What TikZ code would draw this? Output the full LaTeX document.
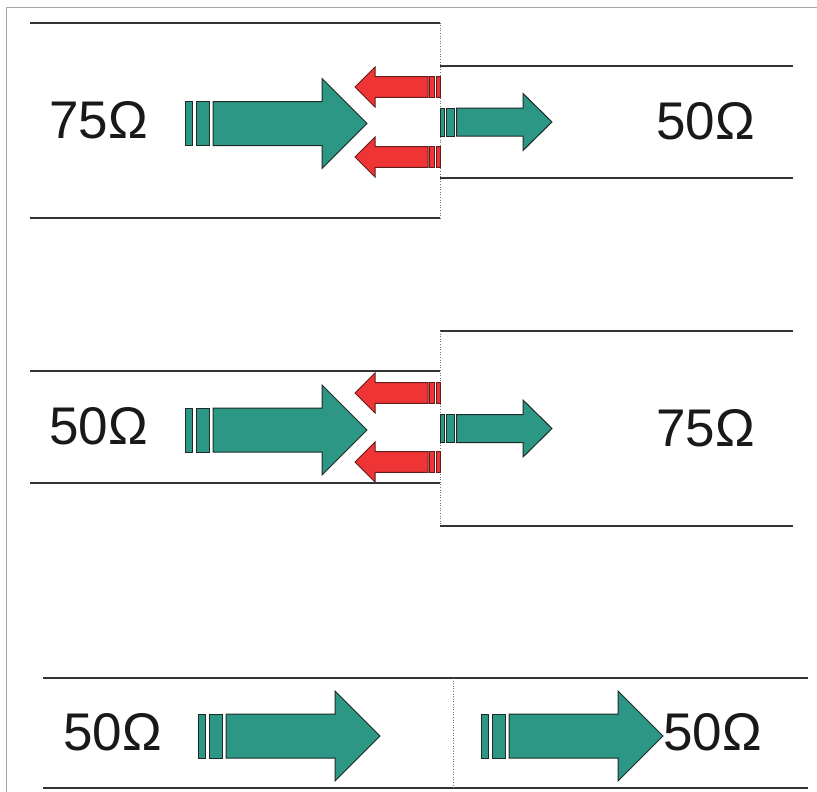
\documentclass[tikz,border=0pt]{standalone}
\usepackage{fontspec}
\setmainfont{Liberation Sans}
\definecolor{wavegreen}{HTML}{2C9784}
\definecolor{reflred}{HTML}{EE3434}
\definecolor{edgedark}{HTML}{1F2A27}

\tikzset{
  frame/.style={draw=black!35, line width=0.8pt},
  conductor/.style={draw=black!80, line width=2pt},
  junction/.style={draw=black!55, line width=0.6pt, dotted},
  greenpart/.style={fill=wavegreen, draw=edgedark, line width=1pt},
  redpart/.style={fill=reflred, draw=edgedark!70!red, line width=1pt},
  ohms/.style={font=\fontsize{53}{60}\selectfont, inner sep=0pt, anchor=base west, text=black!90},
  % incident wave, long arrow
  bigarrow/.pic={
    \path[greenpart] (0,-22) rectangle (7,22);
    \path[greenpart] (11,-22) rectangle (24,22);
    \path[greenpart] (28,-22) -- (137,-22) -- (137,-45) -- (182,0)
      -- (137,45) -- (137,22) -- (28,22) -- cycle;
  },
  % transmitted wave, short arrow
  smallarrow/.pic={
    \path[greenpart] (0,-14) rectangle (4,14);
    \path[greenpart] (6,-14) rectangle (14,14);
    \path[greenpart] (16.5,-14) -- (83,-14) -- (83,-28.5) -- (112,0)
      -- (83,28.5) -- (83,14) -- (16.5,14) -- cycle;
  },
  % reflected wave, pointing back
  redarrow/.pic={
    \path[redpart] (-4,-10.3) rectangle (0,10.3);
    \path[redpart] (-10.5,-10.3) rectangle (-6,10.3);
    \path[redpart] (-12,-10.3) -- (-65,-10.3) -- (-65,-20) -- (-85,0)
      -- (-65,20) -- (-65,10.3) -- (-12,10.3) -- cycle;
  }
}

\begin{document}
\begin{tikzpicture}[x=1pt,y=-1pt]
  \useasboundingbox (0,0) rectangle (817,792);
  \fill[white] (0,0) rectangle (817,792);
  \draw[frame] (6,792) -- (6,7) -- (817,7);

  % ---- 75 ohm into 50 ohm ----
  \draw[conductor] (30,22.7) -- (440,22.7);
  \draw[conductor] (30,218) -- (440,218);
  \draw[conductor] (440,66) -- (793,66);
  \draw[conductor] (440,178.3) -- (793,178.3);
  \draw[junction] (440,22.7) -- (440,218);
  \node[ohms] (zA1) at (49,138) {75Ω};
  \node[ohms] (zA2) at (656,139.3) {50Ω};
  \pic at (185,123.5) {bigarrow};
  \pic at (440,122) {smallarrow};
  \pic at (440,87) {redarrow};
  \pic at (440,157) {redarrow};

  % ---- 50 ohm into 75 ohm ----
  \draw[conductor] (30,371) -- (440,371);
  \draw[conductor] (30,483) -- (440,483);
  \draw[conductor] (440,331) -- (793,331);
  \draw[conductor] (440,526) -- (793,526);
  \draw[junction] (440,331) -- (440,526);
  \node[ohms] (zB1) at (49,444) {50Ω};
  \node[ohms] (zB2) at (656,446.7) {75Ω};
  \pic at (185,430) {bigarrow};
  \pic at (440,428.5) {smallarrow};
  \pic at (440,393) {redarrow};
  \pic at (440,462) {redarrow};

  % ---- matched 50 ohm line ----
  \draw[conductor] (43,678) -- (808,678);
  \draw[conductor] (43,788) -- (808,788);
  \draw[junction] (453,678) -- (453,788);
  \node[ohms] (zC1) at (63,750) {50Ω};
  \node[ohms] (zC2) at (663,750) {50Ω};
  \pic at (198,736) {bigarrow};
  \pic at (481,736) {bigarrow};
\end{tikzpicture}
\end{document}
